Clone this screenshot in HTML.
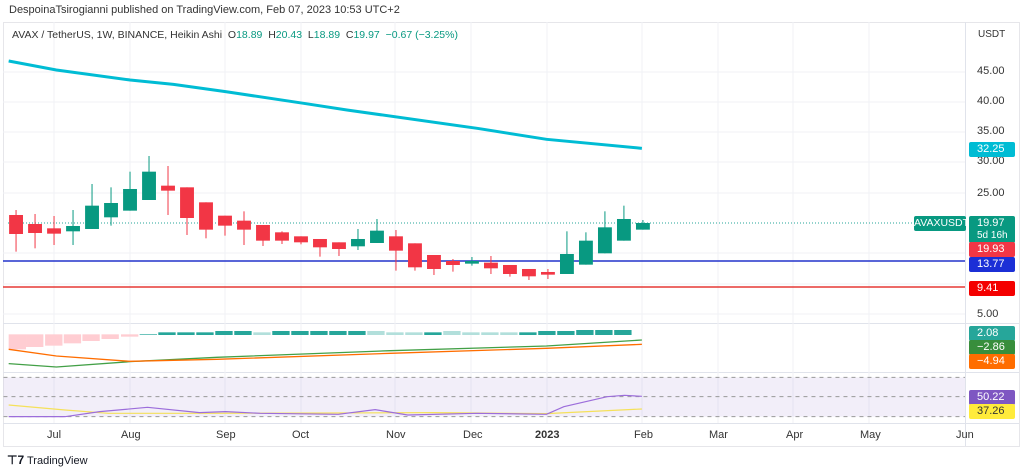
<!DOCTYPE html>
<html><head><meta charset="utf-8"><style>
body{margin:0;width:1024px;height:474px;background:#fff;overflow:hidden;font-family:"Liberation Sans",sans-serif;position:relative}
.t{position:absolute;white-space:nowrap}
.lab{position:absolute;left:969px;height:15px;font-size:11px;color:#fff;line-height:15px;padding-left:8px;width:38px;border-radius:2px}
</style></head><body>
<div class="t" style="left:9px;top:4px;font-size:11px;color:#333">DespoinaTsirogianni published on TradingView.com, Feb 07, 2023 10:53 UTC+2</div>
<svg width="1024" height="474" style="position:absolute;left:0;top:0">
<rect x="3.5" y="22.5" width="1016" height="424" fill="none" stroke="#e6e6ea"/>
<line x1="965.5" y1="22" x2="965.5" y2="446" stroke="#e0e3eb"/>
<line x1="3" y1="323.5" x2="1019" y2="323.5" stroke="#e0e3eb"/>
<line x1="3" y1="372.5" x2="1019" y2="372.5" stroke="#e0e3eb"/>
<line x1="3" y1="423.5" x2="1019" y2="423.5" stroke="#e0e3eb"/>
<g stroke="#f0f2f6">
<line x1="54" y1="22" x2="54" y2="423"/><line x1="130" y1="22" x2="130" y2="423"/><line x1="225" y1="22" x2="225" y2="423"/><line x1="301" y1="22" x2="301" y2="423"/><line x1="395" y1="22" x2="395" y2="423"/><line x1="471" y1="22" x2="471" y2="423"/><line x1="547" y1="22" x2="547" y2="423"/><line x1="642" y1="22" x2="642" y2="423"/><line x1="718" y1="22" x2="718" y2="423"/><line x1="793" y1="22" x2="793" y2="423"/><line x1="869" y1="22" x2="869" y2="423"/>
<line x1="3" y1="72" x2="965" y2="72"/><line x1="3" y1="102" x2="965" y2="102"/><line x1="3" y1="132" x2="965" y2="132"/><line x1="3" y1="162" x2="965" y2="162"/><line x1="3" y1="193" x2="965" y2="193"/><line x1="3" y1="253" x2="965" y2="253"/><line x1="3" y1="284" x2="965" y2="284"/><line x1="3" y1="314" x2="965" y2="314"/>
</g>
<line x1="8" y1="223" x2="965" y2="223" stroke="#26a69a" stroke-dasharray="1,2"/>
<line x1="3" y1="261" x2="965" y2="261" stroke="#2233cc" stroke-width="1.5"/>
<line x1="3" y1="287" x2="965" y2="287" stroke="#e53935" stroke-width="1.5"/>
<g transform="translate(0,40) scale(0.4337,0.3333)">
<polyline fill="none" stroke="#00bcd4" stroke-width="3" vector-effect="non-scaling-stroke" points="20,63 130,90 300,120 400,133 520,155 700,190 800,210 1100,265 1260,298 1480,325"/>
</g>
<g id="c" transform="translate(0,150) scale(0.4337,0.3333)"></g>
<g transform="translate(0,320) scale(0.4337,0.3333)">
<g id="h"></g>
<polyline fill="none" stroke="#43a047" stroke-width="1.3" vector-effect="non-scaling-stroke" points="20,131 130,141 300,125 500,112 900,92 1260,78 1480,60"/>
<polyline fill="none" stroke="#ff6d00" stroke-width="1.3" vector-effect="non-scaling-stroke" points="20,88 130,108 300,124 500,118 900,100 1260,85 1480,73"/>
<rect x="8" y="172" width="2217" height="118" fill="#7e57c2" fill-opacity="0.1"/>
<g stroke="#999" stroke-dasharray="4,4"><line x1="8" y1="172" x2="2225" y2="172" vector-effect="non-scaling-stroke"/><line x1="8" y1="230" x2="2225" y2="230" vector-effect="non-scaling-stroke"/><line x1="8" y1="290" x2="2225" y2="290" vector-effect="non-scaling-stroke"/></g>
<polyline fill="none" stroke="#f5e15a" stroke-width="1.2" vector-effect="non-scaling-stroke" points="20,255 150,270 250,280 500,280 1000,278 1260,281 1480,267"/>
<polyline fill="none" stroke="#9c6ddb" stroke-width="1.2" vector-effect="non-scaling-stroke" points="20,290 150,290 230,275 340,262 460,278 520,275 600,280 780,283 865,269 940,285 1100,280 1260,283 1300,260 1400,230 1440,226 1480,229"/>
</g>
</svg>
<div class="t" style="left:12px;top:29px;font-size:10.5px;color:#333">AVAX / TetherUS, 1W, BINANCE, Heikin Ashi &nbsp;O<span style="color:#089981">18.89</span> &nbsp;H<span style="color:#089981">20.43</span> &nbsp;L<span style="color:#089981">18.89</span> &nbsp;C<span style="color:#089981">19.97</span> &nbsp;<span style="color:#089981">−0.67 (−3.25%)</span></div>
<div class="t" style="left:978px;top:29px;font-size:10px;color:#333">USDT</div>
<div class="t" style="left:977px;top:65px;font-size:11px;color:#333">45.00</div>
<div class="t" style="left:977px;top:95px;font-size:11px;color:#333">40.00</div>
<div class="t" style="left:977px;top:125px;font-size:11px;color:#333">35.00</div>
<div class="t" style="left:977px;top:155px;font-size:11px;color:#333">30.00</div>
<div class="t" style="left:977px;top:187px;font-size:11px;color:#333">25.00</div>
<div class="t" style="left:977px;top:308px;font-size:11px;color:#333">5.00</div>
<div class="lab" style="top:142px;background:#00bcd4">32.25</div>
<div class="t" style="left:914px;top:216px;height:15px;width:52px;background:#089981;color:#fff;font-size:10.5px;line-height:15px;text-align:center;border-radius:2px">AVAXUSDT</div>
<div class="lab" style="top:216px;height:26px;background:#089981;line-height:12px;padding-top:1px">19.97<br><span style="font-size:10px">5d 16h</span></div>
<div class="lab" style="top:242px;background:#f23645">19.93</div>
<div class="lab" style="top:257px;background:#1b2fd6">13.77</div>
<div class="lab" style="top:281px;background:#f40000">9.41</div>
<div class="lab" style="top:326px;background:#26a69a">2.08</div>
<div class="lab" style="top:340px;background:#388e3c">−2.86</div>
<div class="lab" style="top:354px;background:#ff6d00">−4.94</div>
<div class="lab" style="top:390px;background:#7e57c2">50.22</div>
<div class="lab" style="top:404px;background:#ffeb3b;color:#333">37.26</div>
<div class="t" style="left:47px;top:429px;font-size:11px;color:#333">Jul</div>
<div class="t" style="left:121px;top:429px;font-size:11px;color:#333">Aug</div>
<div class="t" style="left:216px;top:429px;font-size:11px;color:#333">Sep</div>
<div class="t" style="left:292px;top:429px;font-size:11px;color:#333">Oct</div>
<div class="t" style="left:386px;top:429px;font-size:11px;color:#333">Nov</div>
<div class="t" style="left:463px;top:429px;font-size:11px;color:#333">Dec</div>
<div class="t" style="left:535px;top:429px;font-size:11px;color:#333;font-weight:bold">2023</div>
<div class="t" style="left:634px;top:429px;font-size:11px;color:#333">Feb</div>
<div class="t" style="left:709px;top:429px;font-size:11px;color:#333">Mar</div>
<div class="t" style="left:786px;top:429px;font-size:11px;color:#333">Apr</div>
<div class="t" style="left:860px;top:429px;font-size:11px;color:#333">May</div>
<div class="t" style="left:956px;top:429px;font-size:11px;color:#333">Jun</div>
<div class="t" style="left:7px;top:453px;font-size:11px;color:#131722"><b style="font-size:12px">⊤7</b> TradingView</div>
<script>
var C=[["R",195,252,180,305],["R",222,249,192,295],["R",235,251,198,285],["G",228,244,180,285],["G",167,237,102,237],["G",159,202,112,227],["G",117,182,65,182],["G",65,150,18,150],["R",107,122,48,195],["R",112,204,112,255],["R",157,239,157,265],["R",197,227,197,257],["R",212,239,184,285],["R",225,272,225,288],["R",247,272,244,282],["R",259,277,259,283],["R",267,292,267,320],["R",277,297,277,318],["G",267,289,237,300],["G",242,279,207,279],["R",259,302,240,362],["R",280,352,280,362],["R",315,357,315,375],["R",333,345,327,365],["G",333,341,321,347],["R",338,355,318,372],["R",345,372,345,380],["R",357,379,357,390],["R",366,374,357,387],["G",312,372,244,372],["G",272,344,247,344],["G",232,310,184,310],["G",207,272,167,272],["G",219,239,210,239]];
var s="";C.forEach(function(c,i){var x=37+i*43.8,col=c[0]=="R"?"#f23645":"#089981";
s+='<line x1="'+x+'" x2="'+x+'" y1="'+c[3]+'" y2="'+c[4]+'" stroke="'+col+'" stroke-width="1" vector-effect="non-scaling-stroke"/>';
s+='<rect x="'+(x-16)+'" y="'+c[1]+'" width="32" height="'+Math.max(c[2]-c[1],3)+'" fill="'+col+'"/>';});
document.getElementById("c").innerHTML=s;
var H=[[20,88],[60,81],[104,77],[147,70],[190,63],[234,57],[279,50]],h="";
H.forEach(function(b){h+='<rect x="'+b[0]+'" y="43" width="40" height="'+(b[1]-43)+'" fill="#ffcdd2"/>'});
h+='<rect x="322" y="42" width="40" height="2" fill="#26a69a"/>';
var T=[37,37,37,33,33,37,33,33,33,33,33,33,37,37,37,33,37,37,37,37,33,33,30,30,30];
for(var i=0;i<25;i++){var x=365+i*43.8;var light=[5,11,12,13,15,16,17,18].indexOf(i)>=0;
h+='<rect x="'+x+'" y="'+T[i]+'" width="40" height="'+(45-T[i])+'" fill="'+(light?"#b2dfdb":"#26a69a")+'"/>';}
document.getElementById("h").innerHTML=h;
</script>
</body></html>
